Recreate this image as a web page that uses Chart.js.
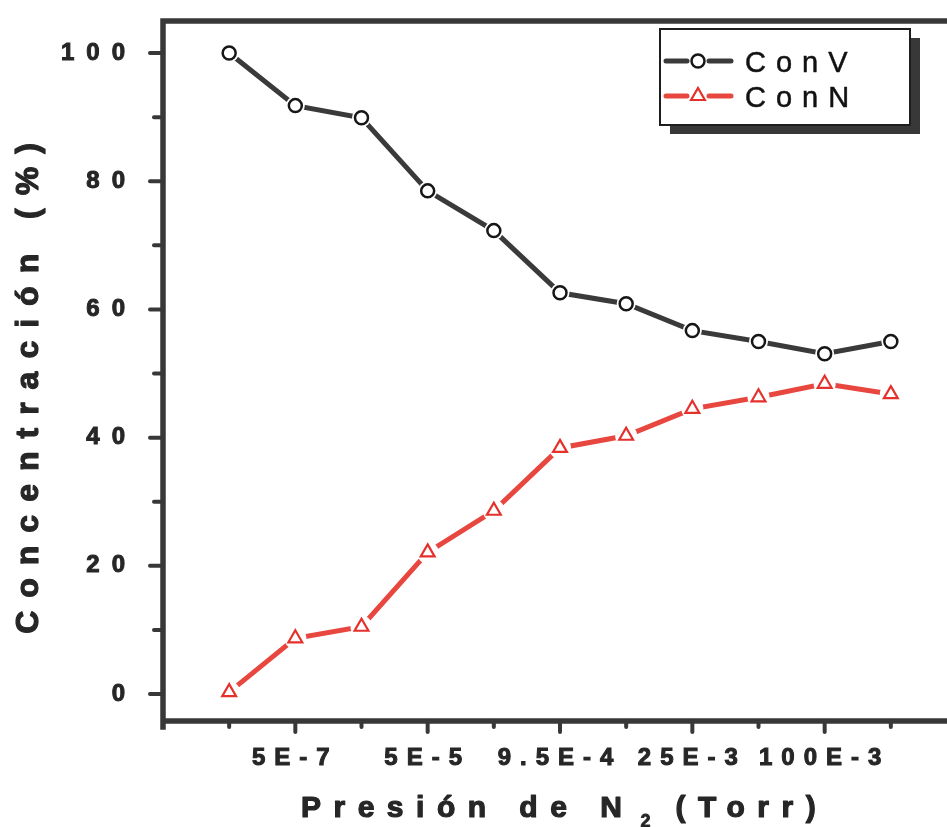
<!DOCTYPE html>
<html><head><meta charset="utf-8">
<script src="https://cdn.jsdelivr.net/npm/chart.js@4/dist/chart.umd.min.js"></script>
<style>
html,body{margin:0;padding:0;overflow:hidden;background:#fff;width:947px;height:827px}
#wrap{position:absolute;left:0;top:0;width:980px;height:827px}
</style>
</head><body><div id="wrap"><canvas id="c" width="980" height="827"></canvas></div>
<script>
// ---- data ----
const xPositions = [1, 2, 3, 4, 5, 6, 7, 8, 9, 10, 11];
const tickPositions = [2, 4, 6, 8, 10];
const tickLabels = ['5E-7', '5E-5', '9.5E-4', '25E-3', '100E-3'];
const seriesNames = ['ConV', 'ConN'];
const conV = [100, 91.8, 89.9, 78.5, 72.3, 62.6, 60.9, 56.7, 55.0, 53.1, 55.0];
const conN = [0.3, 8.7, 10.5, 22.1, 28.6, 38.4, 40.3, 44.5, 46.3, 48.4, 46.8];
const yTicks = [0, 10, 20, 30, 40, 50, 60, 70, 80, 90, 100];
const yTitle = 'Concentración (%)';
const xTitleParts = ['Presión de N', '2', '(Torr)'];

const FONT = "'Liberation Sans', Arial, Helvetica, sans-serif";
const INK = '#262626';
const RED = '#e8473f';

function spacedLabels(spacing) {
  return s => {
    if (s._spaced) return;
    const orig = s.drawLabels.bind(s);
    s.drawLabels = function (ca) {
      const c = this.ctx;
      const prev = c.letterSpacing;
      c.letterSpacing = spacing;
      orig(ca);
      c.letterSpacing = prev;
    };
    s._spaced = true;
  };
}

const haloPlugin = {
  id: 'halo',
  afterDatasetDraw(chart, args) {
    const ctx = chart.ctx;
    args.meta.data.forEach(pt => {
      ctx.save();
      ctx.fillStyle = '#fff';
      ctx.beginPath();
      ctx.arc(pt.x, pt.y, pt.options.radius + 3, 0, Math.PI * 2);
      ctx.fill();
      ctx.restore();
      pt.draw(ctx, chart.chartArea);
    });
  }
};

const framePlugin = {
  id: 'frame',
  beforeDatasetsDraw(chart) {
    const ctx = chart.ctx;
    const a = chart.chartArea;
    const xs = chart.scales.x, ys = chart.scales.y;
    ctx.save();
    ctx.strokeStyle = '#383838';
    ctx.lineWidth = 5.5;
    ctx.lineCap = 'square';
    ctx.beginPath();
    ctx.moveTo(a.left, a.bottom + 6);
    ctx.lineTo(a.left, a.top);
    ctx.lineTo(a.right, a.top);
    ctx.lineTo(a.right, a.bottom);
    ctx.lineTo(a.left, a.bottom);
    ctx.stroke();
    ctx.lineWidth = 4;
    ctx.lineCap = 'round';
    yTicks.forEach(v => {
      const y = ys.getPixelForValue(v);
      const len = (v % 20 === 0) ? 13 : 9;
      ctx.beginPath();
      ctx.moveTo(a.left, y);
      ctx.lineTo(a.left - len, y);
      ctx.stroke();
    });
    xPositions.forEach(v => {
      const x = xs.getPixelForValue(v);
      const len = tickPositions.includes(v) ? 11 : 6;
      ctx.beginPath();
      ctx.moveTo(x, a.bottom);
      ctx.lineTo(x, a.bottom + len);
      ctx.stroke();
    });
    ctx.restore();
  }
};

function heavyText(ctx, s, x, y, w) {
  ctx.lineWidth = w;
  ctx.lineJoin = 'round';
  ctx.strokeStyle = ctx.fillStyle;
  ctx.strokeText(s, x, y);
  ctx.fillText(s, x, y);
}

const textPlugin = {
  id: 'texts',
  afterDraw(chart) {
    const ctx = chart.ctx;
    ctx.save();
    ctx.fillStyle = INK;
    // y title
    ctx.save();
    ctx.font = 'bold 32px ' + FONT;
    ctx.letterSpacing = '13px';
    ctx.textAlign = 'center';
    ctx.textBaseline = 'middle';
    ctx.translate(29, 385);
    ctx.rotate(-Math.PI / 2);
    heavyText(ctx, yTitle, 3, 0, 1.2);
    ctx.restore();
    // x title
    ctx.save();
    ctx.fillStyle = INK;
    ctx.textBaseline = 'alphabetic';
    ctx.textAlign = 'left';
    ctx.font = 'bold 30px ' + FONT;
    ctx.letterSpacing = '12.5px';
    let x = 301;
    heavyText(ctx, xTitleParts[0], x, 817, 1.2);
    x += ctx.measureText(xTitleParts[0]).width;
    ctx.font = 'bold 18px ' + FONT;
    ctx.letterSpacing = '0px';
    heavyText(ctx, xTitleParts[1], x + 6, 827, 0.8);
    x += 6 + ctx.measureText(xTitleParts[1]).width + 25;
    ctx.font = 'bold 30px ' + FONT;
    ctx.letterSpacing = '12.5px';
    heavyText(ctx, xTitleParts[2], x, 817, 1.2);
    ctx.restore();
    // legend
    const bx = 660, by = 29, bw = 250, bh = 96;
    ctx.fillStyle = '#383838';
    ctx.fillRect(bx + 10, by + 9, bw, bh);
    ctx.fillStyle = '#fff';
    ctx.fillRect(bx, by, bw, bh);
    ctx.strokeStyle = '#1e1e1e';
    ctx.lineWidth = 2;
    ctx.strokeRect(bx, by, bw, bh);
    const rows = [61, 96];
    chart.data.datasets.forEach((ds, i) => {
      const y = rows[i];
      ctx.save();
      ctx.strokeStyle = ds.borderColor;
      ctx.lineWidth = 5;
      ctx.lineCap = 'round';
      ctx.beginPath();
      ctx.moveTo(666, y); ctx.lineTo(687, y);
      ctx.moveTo(709, y); ctx.lineTo(731, y);
      ctx.stroke();
      ctx.fillStyle = '#fff';
      ctx.strokeStyle = ds.pointBorderColor;
      ctx.lineWidth = ds.pointBorderWidth;
      Chart.helpers.drawPoint(ctx, {pointStyle: ds.pointStyle, radius: ds.pointRadius, borderWidth: ds.pointBorderWidth, rotation: 0}, 698, y);
      ctx.restore();
      ctx.save();
      ctx.fillStyle = '#111';
      ctx.font = '29px ' + FONT;
      ctx.letterSpacing = '10px';
      ctx.textBaseline = 'alphabetic';
      ctx.textAlign = 'left';
      heavyText(ctx, ds.label, 745, y + 10.5, 0.5);
      ctx.restore();
    });
    ctx.restore();
  }
};

new Chart(document.getElementById('c'), {
  type: 'line',
  data: {
    datasets: [
      {
        label: seriesNames[0],
        data: xPositions.map((x, i) => ({x, y: conV[i]})),
        borderColor: '#3a3a3a', borderWidth: 5,
        pointStyle: 'circle', pointRadius: 6.5, pointBorderWidth: 2.5,
        pointBorderColor: '#161616', pointBackgroundColor: '#fff',
        tension: 0
      },
      {
        label: seriesNames[1],
        data: xPositions.map((x, i) => ({x, y: conN[i]})),
        borderColor: RED, borderWidth: 5,
        pointStyle: 'triangle', pointRadius: 8, pointBorderWidth: 2.2,
        pointBorderColor: '#e5312c', pointBackgroundColor: '#fff',
        tension: 0
      }
    ]
  },
  options: {
    responsive: false,
    animation: false,
    devicePixelRatio: 1,
    layout: { padding: { left: 0, right: 23, top: 21, bottom: 0 } },
    plugins: { legend: { display: false }, tooltip: { enabled: false } },
    scales: {
      x: {
        type: 'linear', min: 0, max: 12,
        afterBuildTicks: s => { s.ticks = xPositions.map(v => ({value: v})); },
        afterFit: s => { s.height = 106; s.paddingLeft = 0; s.paddingRight = 0; },
        afterUpdate: spacedLabels('9px'),
        grid: { display: false }, border: { display: false },
        ticks: {
          autoSkip: false, maxRotation: 0, padding: 15,
          color: INK, textStrokeColor: INK, textStrokeWidth: 1,
          font: { family: FONT, size: 24, weight: 'bold' },
          callback: v => { const k = tickPositions.indexOf(v); return k >= 0 ? tickLabels[k] : ''; }
        }
      },
      y: {
        min: -4.2, max: 105,
        afterBuildTicks: s => { s.ticks = yTicks.map(v => ({value: v})); },
        afterFit: s => { s.width = 163; s.paddingTop = 0; s.paddingBottom = 0; },
        afterUpdate: spacedLabels('12px'),
        grid: { display: false }, border: { display: false },
        ticks: {
          padding: 18,
          color: INK, textStrokeColor: INK, textStrokeWidth: 1,
          font: { family: FONT, size: 24, weight: 'bold' },
          callback: v => (v % 20 === 0 ? String(v) : '')
        }
      }
    }
  },
  plugins: [framePlugin, haloPlugin, textPlugin]
});
</script>
</body></html>
